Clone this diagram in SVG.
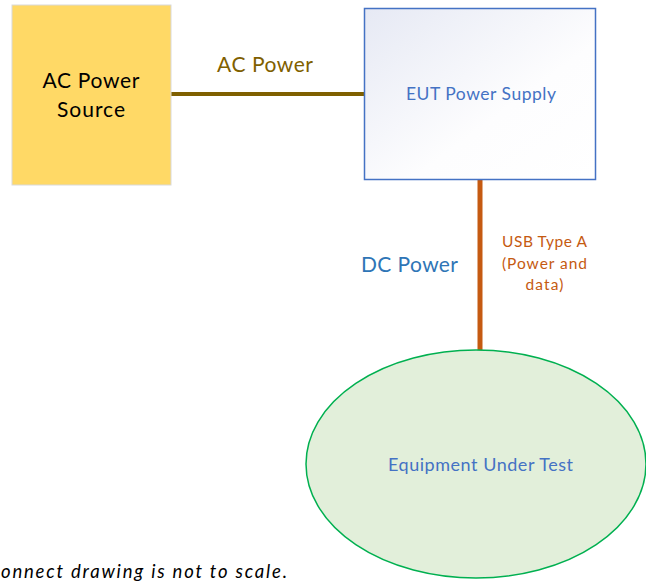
<svg xmlns="http://www.w3.org/2000/svg" width="646" height="581" viewBox="0 0 646 581">
<defs>
<linearGradient id="g1" x1="0" y1="0" x2="1" y2="1">
<stop offset="0" stop-color="#E6E9F4"/>
<stop offset="0.6" stop-color="#FDFDFE"/>
<stop offset="1" stop-color="#FFFFFF"/>
</linearGradient>
<style>
text{font-family:Lato,"Open Sans","Liberation Sans",sans-serif}
.c{text-anchor:middle}
</style>
</defs>
<rect width="646" height="581" fill="#FFFFFF"/>
<g id="connectors">
<line x1="171" y1="94" x2="364" y2="94" stroke="#7F6000" stroke-width="4"/>
<line x1="480" y1="180" x2="480" y2="351" stroke="#C55A11" stroke-width="5"/>
<text x="265" y="72" class="c" font-size="21" fill="#7F6000" textLength="96" lengthAdjust="spacing">AC Power</text>
<text x="409.5" y="272" class="c" font-size="21" fill="#2E75B6" textLength="97" lengthAdjust="spacing">DC Power</text>
<text class="c" font-size="15.5" fill="#C55A11"><tspan x="544.5" y="247" textLength="85" lengthAdjust="spacing">USB Type A</tspan><tspan x="544.5" y="268.5" textLength="85" lengthAdjust="spacing">(Power and</tspan><tspan x="544.5" y="290" textLength="38" lengthAdjust="spacing">data)</tspan></text>
</g>
<g id="ac-source">
<rect x="12" y="5" width="159" height="180" fill="#FFD966" stroke="#D9D9D9" stroke-width="1"/>
<text class="c" font-size="21" fill="#000000"><tspan x="91" y="88" textLength="97" lengthAdjust="spacing">AC Power</tspan><tspan x="91" y="117" textLength="68" lengthAdjust="spacing">Source</tspan></text>
</g>
<g id="eut-supply">
<rect x="364.5" y="8.5" width="231" height="171" fill="url(#g1)" stroke="#4472C4" stroke-width="1.5"/>
<text x="481" y="100" class="c" font-size="17.5" fill="#4472C4" textLength="150" lengthAdjust="spacing">EUT Power Supply</text>
</g>
<g id="eut">
<ellipse cx="476" cy="464" rx="170" ry="114" fill="#E2EFDA" stroke="#00B050" stroke-width="1.5"/>
<text x="480.5" y="470.5" class="c" font-size="18" fill="#4472C4" textLength="185" lengthAdjust="spacing">Equipment Under Test</text>
</g>
<text x="1" y="577.5" font-size="18.5" font-style="italic" fill="#000000" textLength="286" lengthAdjust="spacing">onnect drawing is not to scale.</text>
</svg>
